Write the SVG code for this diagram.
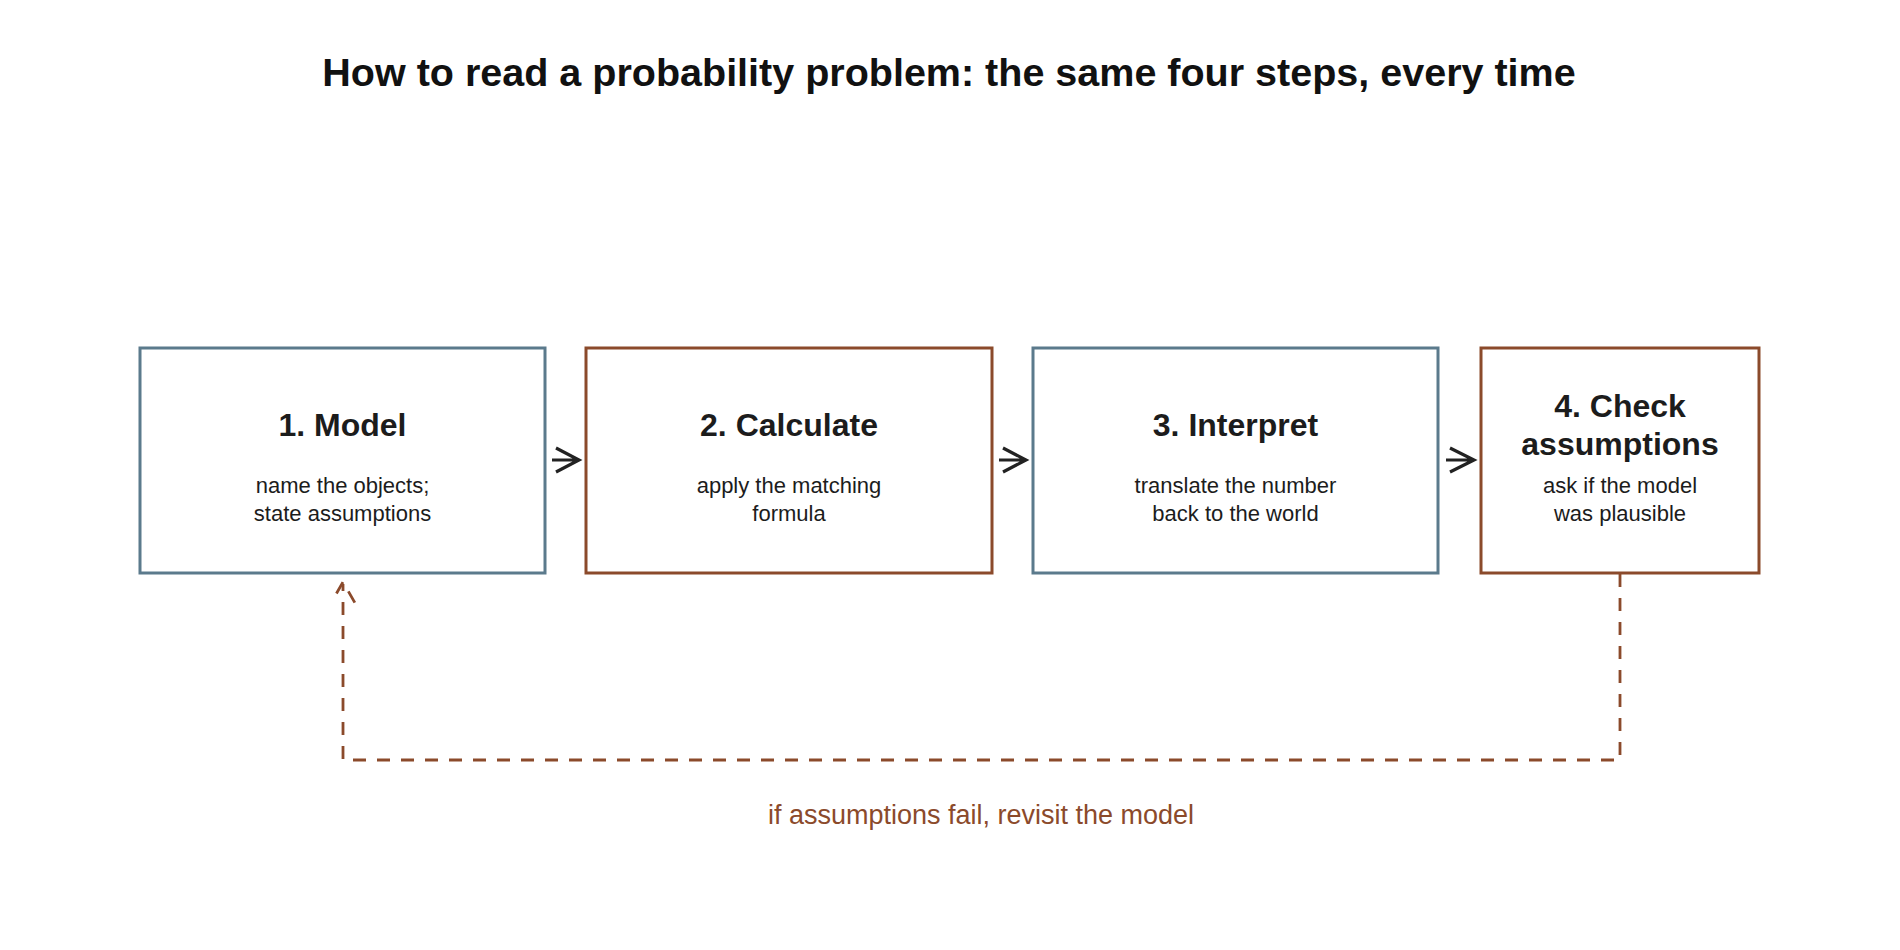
<svg xmlns="http://www.w3.org/2000/svg" width="1900" height="950" viewBox="0 0 1900 950">
<style>
.bg{fill:#ffffff}
.box{fill:#ffffff;stroke-width:3}
.blue{stroke:#5b7a8c}
.brown{stroke:#8b4a2b}
.title{font-family:"Liberation Sans",Arial,sans-serif;font-weight:bold;font-size:39.5px;fill:#111111;text-anchor:middle}
.head{font-family:"Liberation Sans",Arial,sans-serif;font-weight:bold;font-size:32px;fill:#1c1c1c;text-anchor:middle}
.sub{font-family:"Liberation Sans",Arial,sans-serif;font-size:22px;fill:#1c1c1c;text-anchor:middle}
.lbl{font-family:"Liberation Sans",Arial,sans-serif;font-size:27px;fill:#8b4a2b;text-anchor:middle}
.arrow{fill:none;stroke:#222222;stroke-width:3.2;stroke-linecap:butt;stroke-linejoin:miter}
.loop{fill:none;stroke:#8b4a2b;stroke-width:2.8;stroke-dasharray:13 11}
</style>
<rect class="bg" x="0" y="0" width="1900" height="950"/>
<text class="title" x="949" y="86">How to read a probability problem: the same four steps, every time</text>

<g id="connectors">
  <g id="a1"><path class="arrow" d="M552,460 L579,460 M556,448 L579,460 L556,472"/></g>
  <g id="a2"><path class="arrow" d="M999,460 L1026,460 M1003,448 L1026,460 L1003,472"/></g>
  <g id="a3"><path class="arrow" d="M1446,460 L1474,460 M1450,448 L1474,460 L1450,472"/></g>
  <g id="loop">
    <path class="loop" d="M1620,574 L1620,760 L343,760 L343,584"/>
    <path class="loop" d="M331,603 L343,582 L355,603" stroke-dashoffset="13"/>
  </g>
</g>
<text class="lbl" x="981" y="824">if assumptions fail, revisit the model</text>

<g id="n1">
  <rect class="box blue" x="140" y="348" width="405" height="225"/>
  <text class="head" x="342.5" y="436">1. Model</text>
  <text class="sub" x="342.5" y="493">name the objects;</text>
  <text class="sub" x="342.5" y="521">state assumptions</text>
</g>
<g id="n2">
  <rect class="box brown" x="586" y="348" width="406" height="225"/>
  <text class="head" x="789" y="436">2. Calculate</text>
  <text class="sub" x="789" y="493">apply the matching</text>
  <text class="sub" x="789" y="521">formula</text>
</g>
<g id="n3">
  <rect class="box blue" x="1033" y="348" width="405" height="225"/>
  <text class="head" x="1235.5" y="436">3. Interpret</text>
  <text class="sub" x="1235.5" y="493">translate the number</text>
  <text class="sub" x="1235.5" y="521">back to the world</text>
</g>
<g id="n4">
  <rect class="box brown" x="1481" y="348" width="278" height="225"/>
  <text class="head" x="1620" y="417">4. Check</text>
  <text class="head" x="1620" y="455">assumptions</text>
  <text class="sub" x="1620" y="493">ask if the model</text>
  <text class="sub" x="1620" y="521">was plausible</text>
</g>
</svg>
